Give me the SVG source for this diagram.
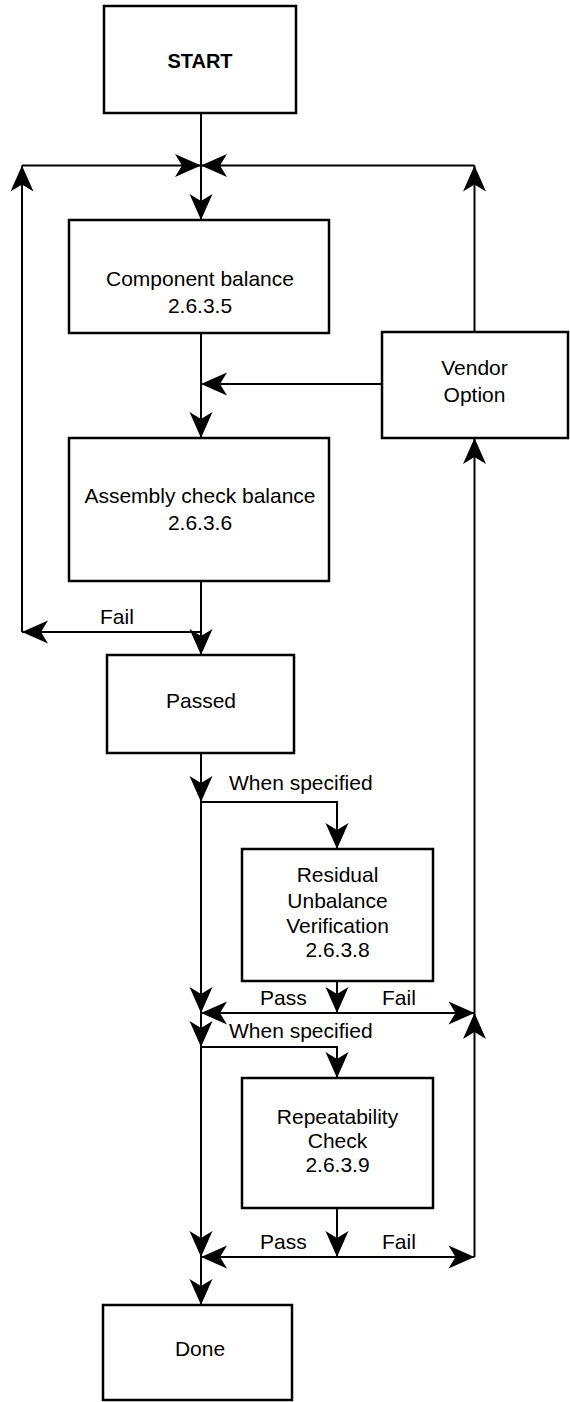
<svg xmlns="http://www.w3.org/2000/svg" xmlns:xlink="http://www.w3.org/1999/xlink" width="570" height="1402" viewBox="0 0 570 1402">
<style>
  .box { fill: #fff; stroke: #000; stroke-width: 2.5; }
  .ln { fill: none; stroke: #000; stroke-width: 2; }
  text { font-family: "Liberation Sans", Arial, sans-serif; font-size: 21px; fill: #000; }
  .c { text-anchor: middle; }
  .b { font-weight: bold; font-size: 20px; }
</style>
<defs>
  <path id="ah" d="M0,0 L-26,-11.5 L-19,0 L-26,11.5 Z" fill="#000"/>
</defs>
<rect width="570" height="1402" fill="#fff"/>

<g id="connectors">
  <path class="ln" d="M201,113 V220"/>
  <path class="ln" d="M22,165.5 H474.5"/>
  <path class="ln" d="M22,632 V165.5"/>
  <path class="ln" d="M474.5,332 V165.5"/>
  <path class="ln" d="M201,333 V438"/>
  <path class="ln" d="M382,384 H201"/>
  <path class="ln" d="M201,581 V655"/>
  <path class="ln" d="M201,632 H22"/>
  <path class="ln" d="M201,753 V1305"/>
  <path class="ln" d="M201,802 H337 V849"/>
  <path class="ln" d="M337,981 V1013"/>
  <path class="ln" d="M201,1013 H474.5"/>
  <path class="ln" d="M201,1047 H337 V1078"/>
  <path class="ln" d="M337,1208 V1257"/>
  <path class="ln" d="M201,1257 H474.5"/>
  <path class="ln" d="M474.5,1257 V438"/>
  <!-- arrowheads -->
  <use xlink:href="#ah" transform="translate(201,165.5)"/>
  <use xlink:href="#ah" transform="translate(201,165.5) rotate(180)"/>
  <use xlink:href="#ah" transform="translate(201,220) rotate(90)"/>
  <use xlink:href="#ah" transform="translate(22,165.5) rotate(-90)"/>
  <use xlink:href="#ah" transform="translate(474.5,165.5) rotate(-90)"/>
  <use xlink:href="#ah" transform="translate(201,384) rotate(180)"/>
  <use xlink:href="#ah" transform="translate(201,438) rotate(90)"/>
  <use xlink:href="#ah" transform="translate(474.5,438) rotate(-90)"/>
  <use xlink:href="#ah" transform="translate(22,632) rotate(180)"/>
  <use xlink:href="#ah" transform="translate(201,655) rotate(90)"/>
  <use xlink:href="#ah" transform="translate(201,802) rotate(90)"/>
  <use xlink:href="#ah" transform="translate(337,849) rotate(90)"/>
  <use xlink:href="#ah" transform="translate(337,1013) rotate(90)"/>
  <use xlink:href="#ah" transform="translate(201,1013) rotate(90)"/>
  <use xlink:href="#ah" transform="translate(201,1013) rotate(180)"/>
  <use xlink:href="#ah" transform="translate(474.5,1013)"/>
  <use xlink:href="#ah" transform="translate(474.5,1013) rotate(-90)"/>
  <use xlink:href="#ah" transform="translate(201,1047) rotate(90)"/>
  <use xlink:href="#ah" transform="translate(337,1078) rotate(90)"/>
  <use xlink:href="#ah" transform="translate(337,1257) rotate(90)"/>
  <use xlink:href="#ah" transform="translate(201,1257) rotate(90)"/>
  <use xlink:href="#ah" transform="translate(201,1257) rotate(180)"/>
  <use xlink:href="#ah" transform="translate(474.5,1257)"/>
  <use xlink:href="#ah" transform="translate(201,1305) rotate(90)"/>
  <!-- labels -->
  <text x="100" y="624">Fail</text>
  <text x="229" y="790">When specified</text>
  <text x="260" y="1005">Pass</text>
  <text x="382" y="1005">Fail</text>
  <text x="229" y="1038">When specified</text>
  <text x="260" y="1249">Pass</text>
  <text x="382" y="1249">Fail</text>
</g>

<g id="start">
  <rect class="box" x="104" y="6" width="192" height="107"/>
  <text class="c b" x="200" y="68">START</text>
</g>
<g id="component">
  <rect class="box" x="69" y="220" width="260" height="113"/>
  <text class="c" x="200" y="286">Component balance</text>
  <text class="c" x="200" y="313">2.6.3.5</text>
</g>
<g id="vendor">
  <rect class="box" x="382" y="332" width="186" height="106"/>
  <text class="c" x="474.5" y="375">Vendor</text>
  <text class="c" x="474.5" y="402">Option</text>
</g>
<g id="assembly">
  <rect class="box" x="69" y="438" width="260" height="143"/>
  <text class="c" x="200" y="503">Assembly check balance</text>
  <text class="c" x="200" y="530">2.6.3.6</text>
</g>
<g id="passed">
  <rect class="box" x="107" y="655" width="187" height="98"/>
  <text class="c" x="201" y="708">Passed</text>
</g>
<g id="residual">
  <rect class="box" x="242" y="849" width="191" height="132"/>
  <text class="c" x="337.5" y="882">Residual</text>
  <text class="c" x="337.5" y="908">Unbalance</text>
  <text class="c" x="337.5" y="933">Verification</text>
  <text class="c" x="337.5" y="957">2.6.3.8</text>
</g>
<g id="repeatability">
  <rect class="box" x="242" y="1078" width="191" height="130"/>
  <text class="c" x="337.5" y="1124">Repeatability</text>
  <text class="c" x="337.5" y="1148">Check</text>
  <text class="c" x="337.5" y="1172">2.6.3.9</text>
</g>
<g id="done">
  <rect class="box" x="103" y="1305" width="189" height="95"/>
  <text class="c" x="200" y="1356">Done</text>
</g>
</svg>
